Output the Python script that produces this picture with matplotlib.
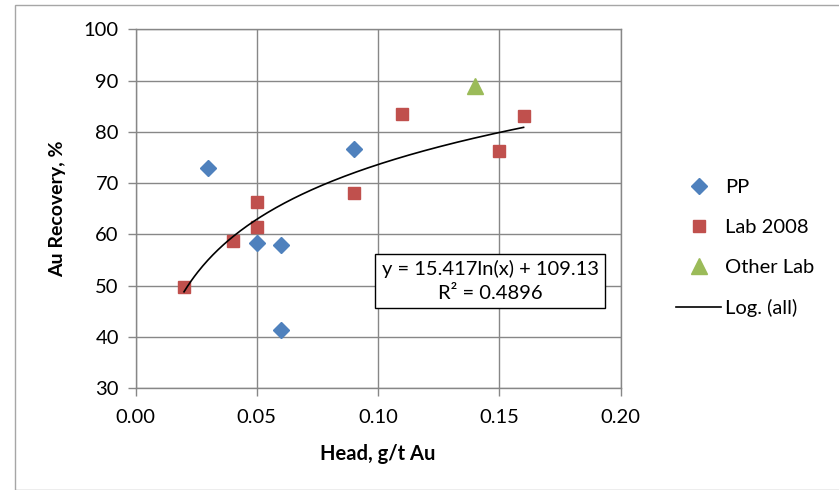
import numpy as np
import matplotlib
matplotlib.use("Agg")
import matplotlib.pyplot as plt
from matplotlib.patches import Rectangle

plt.rcParams['font.family'] = ['Lato', 'DejaVu Sans']

# data
pp_head = [0.03, 0.09, 0.05, 0.06, 0.06]
pp_rec = [73.0, 76.7, 58.4, 57.9, 41.3]
lab_head = [0.02, 0.04, 0.05, 0.05, 0.09, 0.11, 0.15, 0.16]
lab_rec = [49.8, 58.7, 66.4, 61.4, 68.1, 83.4, 76.3, 83.1]
other_head = [0.14]
other_rec = [88.9]

# log trendline from the chart label
trend_a = 15.417
trend_b = 109.13
trend_r2 = 0.4896

grid_col = '#878787'
fs = 14.5

fig = plt.figure(figsize=(8.39, 4.90), dpi=100)
ax = fig.add_axes([135.5 / 839, 1 - 388.3 / 490, 485.1 / 839, 359.0 / 490])

# outer chart frame
fig.patches.append(Rectangle((15 / 839, 0), 1.0, 1 - 4.7 / 490,
                             transform=fig.transFigure, fill=False,
                             edgecolor='#a6a6a6', linewidth=1.0))

all_head = np.array(pp_head + lab_head + other_head)
xs = np.linspace(all_head.min(), all_head.max(), 200)

ax.plot(pp_head, pp_rec, linestyle='none', marker='D', markersize=8.5,
        color='#4f81bd', label='PP', zorder=3)
ax.plot(lab_head, lab_rec, linestyle='none', marker='s', markersize=9,
        color='#c0504d', label='Lab 2008', zorder=3)
ax.plot(other_head, other_rec, linestyle='none', marker='^', markersize=12,
        color='#9bbb59', label='Other Lab', zorder=3)
ax.plot(xs, trend_a * np.log(xs) + trend_b, color='black', linewidth=1.2,
        label='Log. (all)', zorder=4)

ax.set_xlim(0, 0.2)
ax.set_ylim(30, 100)
ax.set_xticks(np.arange(0, 0.201, 0.05))
ax.set_yticks(np.arange(30, 101, 10))
ax.set_xticklabels(['%.2f' % v for v in np.arange(0, 0.201, 0.05)])
ax.grid(True, color=grid_col, linewidth=1.0)
ax.set_axisbelow(True)
for s in ax.spines.values():
    s.set_color(grid_col)
    s.set_linewidth(1.0)
ax.tick_params(axis='both', colors=grid_col, labelcolor='black',
               labelsize=fs, length=6, width=1.0, direction='out')
ax.tick_params(axis='x', pad=9)
ax.tick_params(axis='y', pad=6)

ax.set_xlabel('Head, g/t Au', fontsize=14.5, fontweight='bold', labelpad=13)
ax.set_ylabel('Au Recovery, %', fontsize=14, fontweight='bold', labelpad=13)

ax.text((490 - 135.5) / 485.1 * 0.2, 50.9,
        'y = %.3fln(x) + %.2f\nR² = %.4f' % (trend_a, trend_b, trend_r2),
        fontsize=fs, ha='center', va='center', linespacing=1.5,
        bbox=dict(boxstyle='square,pad=0.3', facecolor='white',
                  edgecolor='black', linewidth=1.0), zorder=5)

leg = ax.legend(loc='center left', bbox_to_anchor=(676 / 839, 1 - 248 / 490),
                bbox_transform=fig.transFigure, frameon=False, fontsize=fs,
                handlelength=2.25, handletextpad=0.2, labelspacing=1.15,
                borderaxespad=0, borderpad=0)

fig.savefig('out.png', dpi=100)
